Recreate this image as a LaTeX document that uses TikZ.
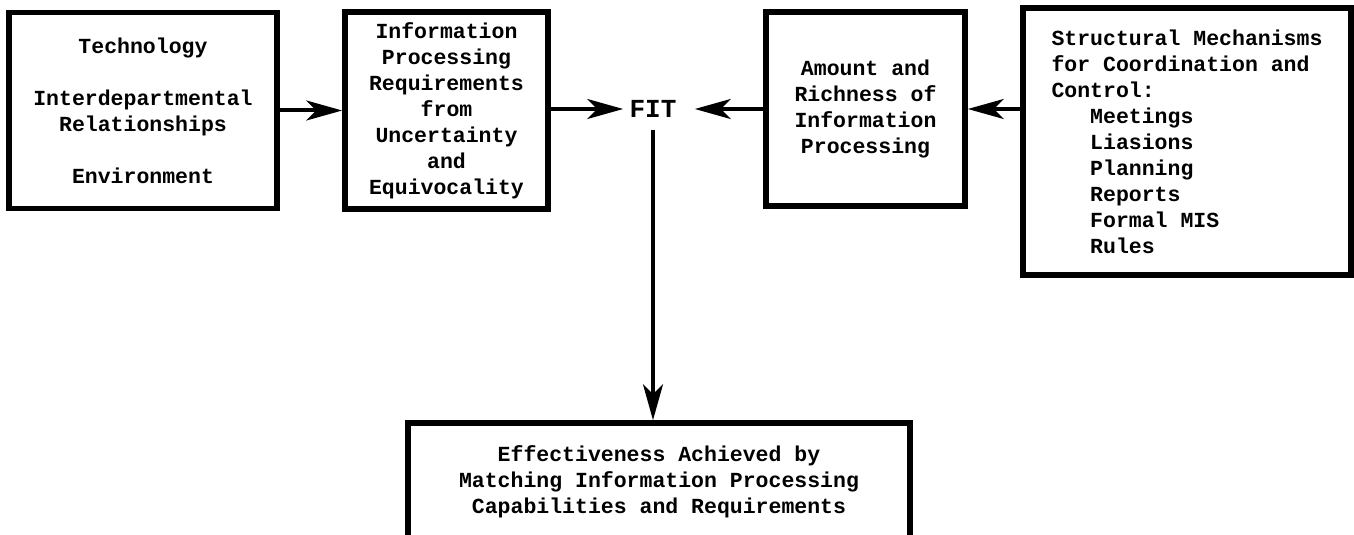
\documentclass[tikz,border=0pt]{standalone}
\usepackage{fontspec}
\setmonofont{Liberation Mono}
\usetikzlibrary{arrows.meta}

\begin{document}
\begin{tikzpicture}[x=0.5pt,y=-0.5pt,
	font=\ttfamily\bfseries\fontsize{10.75}{13}\selectfont,
	box/.style={draw,line width=2.8pt,inner sep=0pt,align=center},
	conn/.style={line width=2pt,-{Stealth[length=18pt,width=10pt,inset=5pt]}}]
	\useasboundingbox (0,0) rectangle (1354,535);
	% boxes
	\node[box,minimum width=134pt,minimum height=98pt] (ctx) at (143,110.5) {Technology\\[13pt]Interdepartmental\\Relationships\\[13pt]Environment};
	\node[box,minimum width=101.5pt,minimum height=98.5pt] (req) at (446.5,110.5) {Information\\Processing\\Requirements\\from\\Uncertainty\\and\\Equivocality};
	\node[box,minimum width=99.5pt,minimum height=97pt] (amt) at (865.5,109) {Amount and\\Richness of\\Information\\Processing};
	\node[box,align=left,minimum width=164pt,minimum height=133.5pt] (mech) at (1187,141.5) {Structural Mechanisms\\for Coordination and\\Control:\\\hspace*{1.8em}Meetings\\\hspace*{1.8em}Liasions\\\hspace*{1.8em}Planning\\\hspace*{1.8em}Reports\\\hspace*{1.8em}Formal MIS\\\hspace*{1.8em}Rules};
	\node[box,minimum width=251pt,minimum height=59pt] (eff) at (659,482) {Effectiveness Achieved by\\Matching Information Processing\\Capabilities and Requirements};
	\node[font=\ttfamily\bfseries\fontsize{13}{15}\selectfont,inner xsep=3pt,inner ysep=1pt] (fit) at (653,109) {FIT};
	% arrows
	\draw[conn] (ctx) -- (req);
	\draw[conn] (req.east |- fit) -- (fit.west);
	\draw[conn,shorten >=6pt] (amt.west) -- (fit.east);
	\draw[conn] (mech.west |- amt) -- (amt.east);
	\draw[conn,shorten <=5pt] (fit.south) -- (fit.south |- eff.north);
\end{tikzpicture}
\end{document}
